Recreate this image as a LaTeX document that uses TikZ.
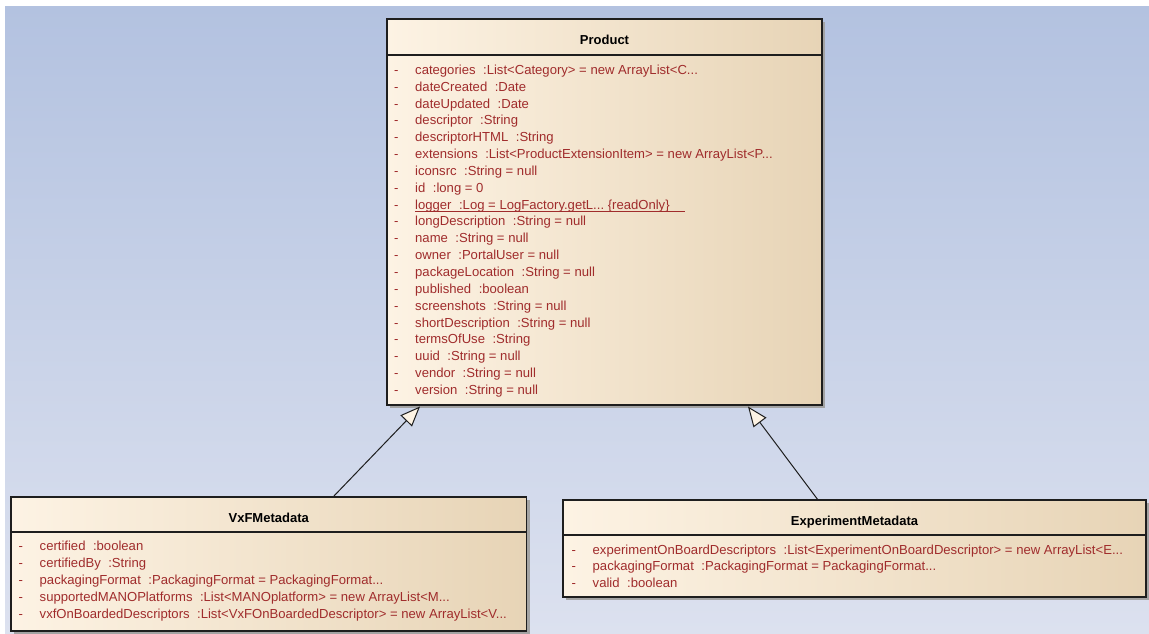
\documentclass[tikz,border=0pt]{standalone}
\usepackage{fontspec}
\setmainfont{Liberation Sans}
\usetikzlibrary{arrows.meta,calc,shadows}
\definecolor{bgtop}{HTML}{B3C2E0}
\definecolor{bgbot}{HTML}{DCE1EF}
\definecolor{creamL}{HTML}{FDF3E4}
\definecolor{tanR}{HTML}{E7D4B6}
\definecolor{attrred}{HTML}{A02C2C}
\definecolor{edge}{HTML}{1E1E1E}
\definecolor{shadowc}{HTML}{A3A3A3}
\newcommand{\ag}{\hspace{7.5pt}}
\newcommand{\trd}{...}
\begin{document}
\begin{tikzpicture}[x=1pt,y=-1pt,
  classbox/.style={draw=edge, line width=1.2pt, left color=creamL, right color=tanR,
    inner sep=0pt, outer sep=0pt, anchor=north west,
    drop shadow={shadow xshift=3pt, shadow yshift=-3pt, fill=shadowc, opacity=1}},
  sepline/.style={draw=edge, line width=1.2pt},
  title/.style={font=\fontsize{13}{15}\selectfont\bfseries, anchor=base, inner sep=0pt},
  attr/.style={font=\fontsize{13.1}{15}\selectfont, text=attrred, anchor=base west, inner sep=0pt},
  gen/.style={draw=edge, line width=1pt, -{Triangle[length=20pt,width=16pt,fill=creamL]}}]
\useasboundingbox (0,0) rectangle (1149,633);
\fill[white] (0,0) rectangle (1149,633);
\shade[top color=bgtop, bottom color=bgbot] (5,6) rectangle (1149,633);

% Product
\node[classbox, minimum width=435pt, minimum height=386pt] (product) at (387,19) {};
\draw[sepline] ($(product.north west)+(0,36)$) -- ($(product.north east)+(0,36)$);
\node[title] (ptitle) at ($(product.north)+(0,25.3)$) {Product};
\foreach \t [count=\i from 0] in {
 {categories\ag:List<Category> = new ArrayList<C\trd},
 {dateCreated\ag:Date},
 {dateUpdated\ag:Date},
 {descriptor\ag:String},
 {descriptorHTML\ag:String},
 {extensions\ag:List<ProductExtensionItem> = new ArrayList<P\trd},
 {iconsrc\ag:String = null},
 {id\ag:long = 0},
 {logger\ag:Log = LogFactory.getL\trd\ \{readOnly\}},
 {longDescription\ag:String = null},
 {name\ag:String = null},
 {owner\ag:PortalUser = null},
 {packageLocation\ag:String = null},
 {published\ag:boolean},
 {screenshots\ag:String = null},
 {shortDescription\ag:String = null},
 {termsOfUse\ag:String},
 {uuid\ag:String = null},
 {vendor\ag:String = null},
 {version\ag:String = null}}{
  \node[attr] (pa\i) at ($(product.north west)+(28,55.3+16.85*\i)$) {\t};
  \node[attr] (pd\i) at ($(product.north west)+(7,55.3+16.85*\i)$) {-};
}
\draw[attrred, line width=1pt] ($(pa8.base west)+(0,2.3)$) -- ++(270,0);

% VxFMetadata
\node[classbox, minimum width=515.5pt, minimum height=134pt] (vxf) at (11,497) {};
\draw[sepline] ($(vxf.north west)+(0,35)$) -- ($(vxf.north east)+(0,35)$);
\node[title] (vtitle) at ($(vxf.north)+(0,25.3)$) {VxFMetadata};
\foreach \t [count=\i from 0] in {
 {certified\ag:boolean},
 {certifiedBy\ag:String},
 {packagingFormat\ag:PackagingFormat = PackagingFormat\trd},
 {supportedMANOPlatforms\ag:List<MANOplatform> = new ArrayList<M\trd},
 {vxfOnBoardedDescriptors\ag:List<VxFOnBoardedDescriptor> = new ArrayList<V\trd}}{
  \node[attr] (va\i) at ($(vxf.north west)+(28.5,53.3+17*\i)$) {\t};
  \node[attr] (vd\i) at ($(vxf.north west)+(7.5,53.3+17*\i)$) {-};
}

% ExperimentMetadata
\node[classbox, minimum width=583pt, minimum height=97pt] (exp) at (563,500) {};
\draw[sepline] ($(exp.north west)+(0,35)$) -- ($(exp.north east)+(0,35)$);
\node[title] (etitle) at ($(exp.north)+(0,25.3)$) {ExperimentMetadata};
\foreach \t [count=\i from 0] in {
 {experimentOnBoardDescriptors\ag:List<ExperimentOnBoardDescriptor> = new ArrayList<E\trd},
 {packagingFormat\ag:PackagingFormat = PackagingFormat\trd},
 {valid\ag:boolean}}{
  \node[attr] (ea\i) at ($(exp.north west)+(29.5,54+16.7*\i)$) {\t};
  \node[attr] (ed\i) at ($(exp.north west)+(8.5,54+16.7*\i)$) {-};
}

% generalizations
\draw[gen] ($(vxf.north west)+(322,0)$) -- ($(product.south west)+(33,1.5)$);
\draw[gen] ($(exp.north west)+(255,0)$) -- ($(product.south west)+(361,1.5)$);
\end{tikzpicture}
\end{document}
